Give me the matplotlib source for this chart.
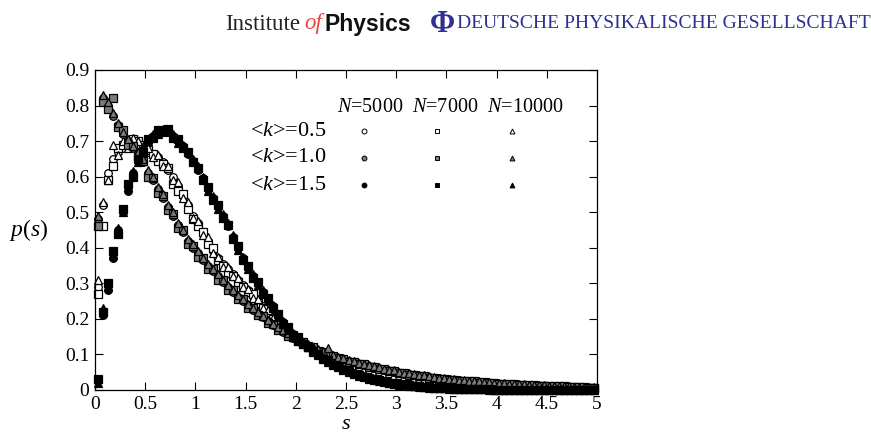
import matplotlib
matplotlib.use("Agg")
import matplotlib.pyplot as plt

plt.rcParams['font.family'] = ['Liberation Serif', 'DejaVu Serif']
plt.rcParams['mathtext.fontset'] = 'custom'
plt.rcParams['mathtext.rm'] = 'Liberation Serif'
plt.rcParams['mathtext.it'] = 'Liberation Serif:italic'

# bin centres of the spacing histogram
s_bins = [0.025, 0.075, 0.125, 0.175, 0.225, 0.275, 0.325, 0.375, 0.425, 0.475,
          0.525, 0.575, 0.625, 0.675, 0.725, 0.775, 0.825, 0.875, 0.925, 0.975,
          1.025, 1.075, 1.125, 1.175, 1.225, 1.275, 1.325, 1.375, 1.425, 1.475,
          1.525, 1.575, 1.625, 1.675, 1.725, 1.775, 1.825, 1.875, 1.925, 1.975,
          2.025, 2.075, 2.125, 2.175, 2.225, 2.275, 2.325, 2.375, 2.425, 2.475,
          2.525, 2.575, 2.625, 2.675, 2.725, 2.775, 2.825, 2.875, 2.925, 2.975,
          3.025, 3.075, 3.125, 3.175, 3.225, 3.275, 3.325, 3.375, 3.425, 3.475,
          3.525, 3.575, 3.625, 3.675, 3.725, 3.775, 3.825, 3.875, 3.925, 3.975,
          4.025, 4.075, 4.125, 4.175, 4.225, 4.275, 4.325, 4.375, 4.425, 4.475,
          4.525, 4.575, 4.625, 4.675, 4.725, 4.775, 4.825, 4.875, 4.925, 4.975]

# <k>=0.5
p_k05_n5000 = [0.29, 0.52, 0.61, 0.65, 0.67, 0.68, 0.69, 0.70, 0.69, 0.68,
               0.67, 0.66, 0.655, 0.64, 0.62, 0.60, 0.575, 0.545, 0.52, 0.49,
               0.47, 0.44, 0.42, 0.39, 0.37, 0.355, 0.34, 0.325, 0.31, 0.295,
               0.28, 0.265, 0.25, 0.235, 0.22, 0.205, 0.19, 0.175, 0.162, 0.151,
               0.140, 0.131, 0.123, 0.115, 0.108, 0.101, 0.095, 0.089, 0.084, 0.079,
               0.074, 0.070, 0.066, 0.062, 0.058, 0.055, 0.052, 0.049, 0.046, 0.044,
               0.041, 0.039, 0.037, 0.035, 0.033, 0.031, 0.030, 0.028, 0.027, 0.025,
               0.024, 0.023, 0.022, 0.021, 0.020, 0.019, 0.018, 0.017, 0.016, 0.015,
               0.015, 0.014, 0.013, 0.013, 0.012, 0.011, 0.011, 0.010, 0.010, 0.009,
               0.009, 0.008, 0.008, 0.008, 0.007, 0.007, 0.007, 0.006, 0.006, 0.006]
p_k05_n7000 = [0.27, 0.46, 0.59, 0.63, 0.68, 0.69, 0.70, 0.705, 0.70, 0.69,
               0.675, 0.665, 0.645, 0.635, 0.625, 0.58, 0.56, 0.55, 0.51, 0.48,
               0.46, 0.445, 0.41, 0.40, 0.365, 0.35, 0.33, 0.32, 0.305, 0.29,
               0.275, 0.27, 0.245, 0.23, 0.215, 0.20, 0.185, 0.17, 0.158, 0.148,
               0.138, 0.133, 0.121, 0.117, 0.106, 0.103, 0.093, 0.091, 0.082, 0.080,
               0.073, 0.071, 0.065, 0.063, 0.057, 0.056, 0.051, 0.050, 0.045, 0.045,
               0.040, 0.040, 0.036, 0.036, 0.032, 0.032, 0.029, 0.029, 0.026, 0.026,
               0.023, 0.024, 0.021, 0.022, 0.019, 0.020, 0.017, 0.018, 0.015, 0.016,
               0.014, 0.015, 0.012, 0.014, 0.011, 0.012, 0.010, 0.011, 0.009, 0.010,
               0.008, 0.009, 0.007, 0.009, 0.006, 0.008, 0.006, 0.007, 0.005, 0.007]
p_k05_n10000 = [0.31, 0.53, 0.59, 0.69, 0.66, 0.70, 0.68, 0.71, 0.70, 0.685,
                0.68, 0.655, 0.66, 0.63, 0.63, 0.59, 0.585, 0.54, 0.53, 0.485,
                0.475, 0.435, 0.43, 0.385, 0.375, 0.345, 0.345, 0.32, 0.315, 0.29,
                0.285, 0.26, 0.255, 0.232, 0.225, 0.203, 0.195, 0.172, 0.166, 0.148,
                0.143, 0.129, 0.126, 0.113, 0.111, 0.099, 0.097, 0.087, 0.086, 0.077,
                0.076, 0.068, 0.068, 0.060, 0.060, 0.053, 0.054, 0.047, 0.048, 0.042,
                0.043, 0.038, 0.038, 0.034, 0.034, 0.030, 0.031, 0.027, 0.028, 0.024,
                0.025, 0.022, 0.023, 0.020, 0.021, 0.018, 0.019, 0.016, 0.017, 0.014,
                0.016, 0.013, 0.014, 0.012, 0.013, 0.010, 0.012, 0.010, 0.011, 0.009,
                0.010, 0.008, 0.009, 0.007, 0.008, 0.007, 0.008, 0.006, 0.007, 0.006]

# <k>=1.0
p_k10_n5000 = [0.48, 0.82, 0.80, 0.77, 0.745, 0.72, 0.70, 0.68, 0.665, 0.64,
               0.61, 0.59, 0.565, 0.54, 0.515, 0.49, 0.465, 0.445, 0.42, 0.40,
               0.385, 0.365, 0.35, 0.335, 0.32, 0.305, 0.29, 0.275, 0.262, 0.25,
               0.238, 0.226, 0.215, 0.204, 0.193, 0.183, 0.173, 0.164, 0.155, 0.147,
               0.139, 0.131, 0.124, 0.117, 0.111, 0.105, 0.100, 0.095, 0.090, 0.086,
               0.082, 0.078, 0.074, 0.070, 0.067, 0.063, 0.060, 0.057, 0.054, 0.051,
               0.049, 0.046, 0.044, 0.042, 0.040, 0.038, 0.036, 0.034, 0.033, 0.031,
               0.030, 0.028, 0.027, 0.026, 0.024, 0.023, 0.022, 0.021, 0.020, 0.019,
               0.018, 0.017, 0.016, 0.015, 0.015, 0.014, 0.013, 0.012, 0.012, 0.011,
               0.011, 0.010, 0.010, 0.009, 0.009, 0.008, 0.008, 0.008, 0.007, 0.007]
p_k10_n7000 = [0.46, 0.81, 0.79, 0.82, 0.74, 0.73, 0.69, 0.685, 0.655, 0.645,
               0.60, 0.595, 0.555, 0.545, 0.505, 0.495, 0.455, 0.45, 0.41, 0.405,
               0.375, 0.37, 0.34, 0.34, 0.31, 0.31, 0.28, 0.28, 0.255, 0.255,
               0.232, 0.231, 0.21, 0.209, 0.189, 0.187, 0.17, 0.168, 0.152, 0.150,
               0.137, 0.134, 0.122, 0.120, 0.109, 0.108, 0.098, 0.097, 0.089, 0.088,
               0.080, 0.080, 0.072, 0.072, 0.065, 0.065, 0.059, 0.059, 0.053, 0.053,
               0.048, 0.048, 0.043, 0.043, 0.039, 0.039, 0.035, 0.035, 0.032, 0.032,
               0.029, 0.029, 0.026, 0.026, 0.024, 0.024, 0.021, 0.022, 0.019, 0.020,
               0.018, 0.018, 0.016, 0.016, 0.014, 0.015, 0.013, 0.013, 0.012, 0.012,
               0.011, 0.011, 0.010, 0.010, 0.009, 0.009, 0.008, 0.008, 0.007, 0.007]
p_k10_n10000 = [0.49, 0.83, 0.81, 0.78, 0.75, 0.725, 0.705, 0.685, 0.67, 0.65,
                0.62, 0.60, 0.57, 0.55, 0.52, 0.50, 0.47, 0.45, 0.425, 0.41,
                0.39, 0.37, 0.355, 0.34, 0.325, 0.31, 0.295, 0.28, 0.268, 0.255,
                0.243, 0.23, 0.22, 0.208, 0.197, 0.187, 0.177, 0.168, 0.159, 0.151,
                0.143, 0.135, 0.128, 0.121, 0.115, 0.109, 0.118, 0.099, 0.094, 0.090,
                0.085, 0.081, 0.077, 0.073, 0.070, 0.067, 0.064, 0.060, 0.057, 0.055,
                0.052, 0.049, 0.047, 0.045, 0.043, 0.041, 0.039, 0.037, 0.035, 0.034,
                0.032, 0.031, 0.029, 0.028, 0.026, 0.025, 0.024, 0.023, 0.022, 0.021,
                0.020, 0.019, 0.018, 0.017, 0.016, 0.016, 0.015, 0.014, 0.013, 0.013,
                0.012, 0.012, 0.011, 0.010, 0.010, 0.009, 0.009, 0.009, 0.008, 0.008]

# <k>=1.5
p_k15_n5000 = [0.03, 0.21, 0.28, 0.37, 0.45, 0.50, 0.56, 0.61, 0.645, 0.675,
               0.70, 0.715, 0.725, 0.73, 0.725, 0.715, 0.70, 0.685, 0.665, 0.645,
               0.62, 0.595, 0.565, 0.54, 0.515, 0.49, 0.46, 0.43, 0.40, 0.37,
               0.345, 0.32, 0.30, 0.275, 0.255, 0.235, 0.21, 0.19, 0.172, 0.158,
               0.145, 0.133, 0.122, 0.111, 0.100, 0.090, 0.081, 0.073, 0.066, 0.059,
               0.053, 0.047, 0.042, 0.037, 0.033, 0.029, 0.026, 0.023, 0.020, 0.018,
               0.016, 0.014, 0.012, 0.011, 0.010, 0.009, 0.008, 0.007, 0.006, 0.005,
               0.005, 0.004, 0.004, 0.003, 0.003, 0.003, 0.002, 0.002, 0.002, 0.002,
               0.001, 0.001, 0.001, 0.001, 0.001, 0.001, 0.001, 0.001, 0.001, 0.001,
               0.001, 0.001, 0.001, 0.001, 0.001, 0.001, 0.001, 0.001, 0.001, 0.001]
p_k15_n7000 = [0.03, 0.22, 0.30, 0.39, 0.44, 0.51, 0.58, 0.60, 0.65, 0.67,
               0.705, 0.71, 0.73, 0.725, 0.735, 0.71, 0.705, 0.68, 0.67, 0.64,
               0.625, 0.59, 0.57, 0.535, 0.52, 0.485, 0.465, 0.425, 0.405, 0.365,
               0.35, 0.315, 0.305, 0.27, 0.26, 0.23, 0.215, 0.185, 0.176, 0.155,
               0.148, 0.130, 0.124, 0.108, 0.102, 0.088, 0.083, 0.071, 0.067, 0.057,
               0.054, 0.046, 0.043, 0.036, 0.034, 0.028, 0.027, 0.022, 0.021, 0.017,
               0.016, 0.013, 0.013, 0.010, 0.010, 0.008, 0.008, 0.006, 0.006, 0.005,
               0.005, 0.004, 0.004, 0.003, 0.003, 0.002, 0.002, 0.002, 0.002, 0.001,
               0.001, 0.001, 0.001, 0.001, 0.001, 0.001, 0.001, 0.001, 0.001, 0.001,
               0.001, 0.001, 0.001, 0.001, 0.001, 0.001, 0.001, 0.001, 0.001, 0.001]
p_k15_n10000 = [0.02, 0.23, 0.29, 0.38, 0.455, 0.50, 0.57, 0.615, 0.64, 0.68,
                0.70, 0.72, 0.72, 0.735, 0.73, 0.72, 0.695, 0.69, 0.67, 0.65,
                0.63, 0.60, 0.56, 0.545, 0.51, 0.495, 0.47, 0.435, 0.395, 0.375,
                0.34, 0.325, 0.295, 0.28, 0.25, 0.24, 0.205, 0.195, 0.168, 0.161,
                0.142, 0.136, 0.120, 0.114, 0.098, 0.092, 0.079, 0.075, 0.064, 0.061,
                0.051, 0.048, 0.040, 0.038, 0.032, 0.030, 0.025, 0.024, 0.019, 0.019,
                0.015, 0.015, 0.012, 0.011, 0.009, 0.009, 0.007, 0.007, 0.006, 0.005,
                0.004, 0.004, 0.003, 0.003, 0.003, 0.002, 0.002, 0.002, 0.001, 0.001,
                0.001, 0.001, 0.001, 0.001, 0.001, 0.001, 0.001, 0.001, 0.001, 0.001,
                0.001, 0.001, 0.001, 0.001, 0.001, 0.001, 0.001, 0.001, 0.001, 0.001]

k_labels = ['0.5', '1.0', '1.5']
n_labels = ['5000', '7000', '10000']
fills = ['white', '#7a7a7a', 'black']
markers = ['o', 's', '^']
msizes = [5.5, 5.5, 6.0]
series = [[p_k05_n5000, p_k05_n7000, p_k05_n10000],
          [p_k10_n5000, p_k10_n7000, p_k10_n10000],
          [p_k15_n5000, p_k15_n7000, p_k15_n10000]]

fig = plt.figure(figsize=(8.71, 4.34), dpi=100)
ax = fig.add_axes([95 / 871, 44 / 434, 502 / 871, 320 / 434])

for i in range(3):
    for j in range(3):
        ax.plot(s_bins, series[i][j], linestyle='none', marker=markers[j],
                ms=msizes[j], mfc=fills[i], mec='black', mew=0.9, clip_on=False)

ax.set_xlim(0, 5)
ax.set_ylim(0, 0.9)
ax.set_xticks([0, 0.5, 1, 1.5, 2, 2.5, 3, 3.5, 4, 4.5, 5])
ax.set_xticklabels(['0', '0.5', '1', '1.5', '2', '2.5', '3', '3.5', '4', '4.5', '5'])
ax.set_yticks([0, 0.1, 0.2, 0.3, 0.4, 0.5, 0.6, 0.7, 0.8, 0.9])
ax.set_yticklabels(['0', '0.1', '0.2', '0.3', '0.4', '0.5', '0.6', '0.7', '0.8', '0.9'])
ax.tick_params(direction='in', top=True, right=True, length=6, width=0.8,
               labelsize=14, pad=4)
for sp in ax.spines.values():
    sp.set_linewidth(0.9)

ax.set_xlabel('$s$', fontsize=16, labelpad=2)
ax.set_ylabel('$p(s)$', fontsize=17, rotation=0, labelpad=26, va='center')

# hand-made legend table
mark_x = [0.535, 0.682, 0.83]
ax.text(0.482, 0.884, '  '.join('$N$=' + n for n in n_labels),
        transform=ax.transAxes, fontsize=14.5, ha='left', va='center')
row_y = [0.809, 0.725, 0.64]
for i in range(3):
    ax.text(0.309, row_y[i], '<$k$>=' + k_labels[i], transform=ax.transAxes,
            fontsize=16, ha='left', va='center')
    for j in range(3):
        ax.plot([mark_x[j]], [row_y[i]], transform=ax.transAxes,
                linestyle='none', marker=markers[j], ms=3.5, mfc=fills[i],
                mec='black', mew=0.7)

# journal header
hy = 1 - 24 / 434
fig.text(225 / 871, hy, 'Institute', fontsize=16.5, va='center', color='#222222')
fig.text(304 / 871, hy, 'of', fontsize=16.5, va='center',
         style='italic', color='#e8453c')
fig.text(324 / 871, hy, 'Physics', fontsize=16.5, va='center',
         family='Liberation Sans', weight='bold', color='#111111')
fig.text(430 / 871, hy, 'Φ', fontsize=22, va='center',
         color='#2e3192', weight='bold')
fig.text(457 / 871, hy, 'DEUTSCHE PHYSIKALISCHE GESELLSCHAFT',
         fontsize=14, va='center', color='#2e3192')

fig.savefig('out.png', dpi=100)
